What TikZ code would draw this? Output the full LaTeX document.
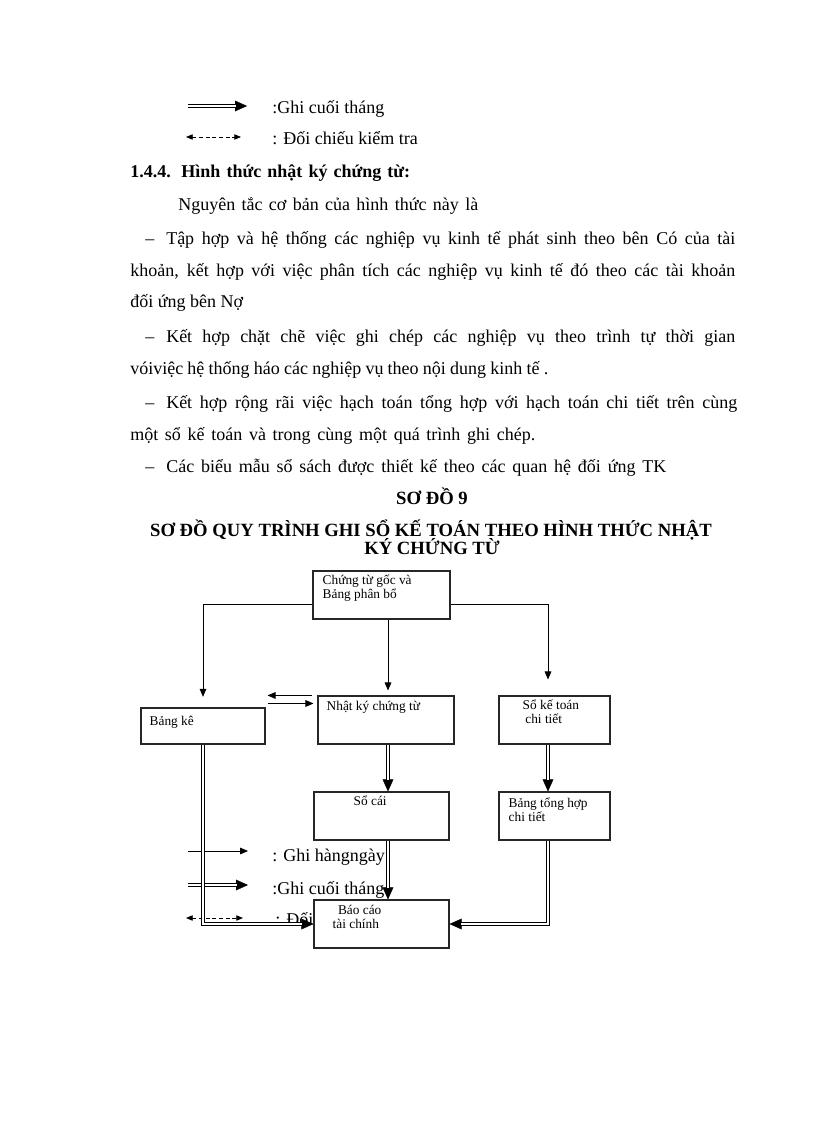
\documentclass[tikz,border=0pt]{standalone}
\usepackage{fontspec}
\setmainfont{Liberation Serif}
\usetikzlibrary{arrows.meta,positioning,calc}

\tikzset{
  box/.style={draw=black!85, line width=0.8pt, fill=white, inner sep=0pt},
  boxtxt/.style={font=\fontsize{10}{10.5}\selectfont, align=left, inner sep=0pt, anchor=north west},
  body/.style={font=\fontsize{13.5}{16}\selectfont, inner sep=0pt, anchor=base west},
  head/.style={font=\fontsize{14}{16}\selectfont\bfseries, inner sep=0pt, anchor=base},
  daily/.style={line width=0.6pt, -{Triangle[length=6pt,width=5pt]}},
  monthly/.style={line width=2.4pt, -{Triangle[length=9pt,width=8pt,line width=0.3pt]},
    postaction={draw=white, line width=0.9pt, -, shorten >=8.5pt}},
  verify/.style={line width=0.6pt, dash pattern=on 3pt off 2pt, {Triangle[length=5pt,width=4pt]}-{Triangle[length=5pt,width=4pt]}},
}

\begin{document}
\begin{tikzpicture}[x=0.75pt,y=-0.75pt]
  \fill[white] (0,0) rectangle (816,1123);
  \useasboundingbox (0,0) rectangle (816,1123);

  % legend at the top of the page
  \coordinate (m1a) at (188,106);
  \coordinate (m1b) at (247,106);
  \draw[monthly] (m1a) -- (m1b);
  \node[body] (m1t) at (272,114) {:Ghi cuối tháng};
  \coordinate (v1a) at (186,137);
  \coordinate (v1b) at (241,137);
  \draw[verify] (v1a) -- (v1b);
  \node[body] (v1t) at (272,145) {: Đối chiếu kiểm tra};

  % text of the section
  \node[body,font=\fontsize{13.5}{16}\selectfont\bfseries] (sec) at (130,178)
    {\makebox[210pt][s]{1.4.4. Hình thức nhật ký chứng từ:}};
  \foreach \x/\y/\w/\t in {
    178/211/225/{Nguyên tắc cơ bản của hình thức này là},
    145/244/442.5/{–\hspace{9pt}Tập hợp và hệ thống các nghiệp vụ kinh tế phát sinh theo bên Có của tài},
    130/276/453.75/{khoản, kết hợp với việc phân tích các nghiệp vụ kinh tế đó theo các tài khoản},
    145/342/442.5/{–\hspace{9pt}Kết hợp chặt chẽ việc ghi chép các nghiệp vụ theo trình tự thời gian},
    130/374/313.5/{vóiviệc hệ thống háo các nghiệp vụ theo nội dung kinh tế .},
    145/408/444/{–\hspace{9pt}Kết hợp rộng rãi việc hạch toán tổng hợp với hạch toán chi tiết trên cùng},
    130/440/303.75/{một sổ kế toán và trong cùng một quá trình ghi chép.},
    145/472/390.75/{–\hspace{9pt}Các biểu mẫu sổ sách được thiết kế theo các quan hệ đối ứng TK}} {
    \node[body] (line\y) at (\x,\y) {\makebox[\w pt][s]{\t}};
  }
  \node[body] (line307) at (130,307) {đối ứng bên Nợ};

  % title of the chart
  \node[head] (t1) at (432,504) {SƠ ĐỒ 9};
  \node[head] (t2) at (431,536) {SƠ ĐỒ QUY TRÌNH GHI SỔ KẾ TOÁN THEO HÌNH THỨC NHẬT};
  \node[head] (t3) at (432,554) {KÝ CHỨNG TỪ};

  % legend inside the chart
  \coordinate (d2a) at (188,851);
  \coordinate (d2b) at (248,851);
  \draw[daily] (d2a) -- (d2b);
  \node[body] (d2t) at (272,861) {: Ghi hàngngày};
  \coordinate (m2a) at (188,885);
  \coordinate (m2b) at (248,885);
  \draw[monthly] (m2a) -- (m2b);
  \node[body] (m2t) at (272,894) {:Ghi cuối tháng};
  \coordinate (v2a) at (186,918);
  \coordinate (v2b) at (243,918);
  \draw[verify] (v2a) -- (v2b);
  \node[body] (v2t) at (275,925) {: Đối};

  % boxes
  \node[box, minimum width=102.75pt, minimum height=36pt] (ctg) at (381.5,595) {};
  \node[box, minimum width=93pt, minimum height=27pt] (bk) at (203,726) {};
  \node[box, minimum width=102pt, minimum height=36pt] (nkct) at (386,720) {};
  \node[box, minimum width=83.25pt, minimum height=36pt] (sktct) at (554.5,720) {};
  \node[box, minimum width=101.25pt, minimum height=36pt] (sc) at (381.5,816) {};
  \node[box, minimum width=83.25pt, minimum height=36pt] (bthct) at (554.5,816) {};
  \node[box, minimum width=101.25pt, minimum height=36pt] (bctc) at (381.5,924) {};

  \node[boxtxt] (ctgt) at ($(ctg.north west)+(10,4)$) {Chứng từ gốc và\\Bảng phân bổ};
  \node[boxtxt] (bkt) at ($(bk.north west)+(9,8)$) {Bảng kê};
  \node[boxtxt] (nkctt) at ($(nkct.north west)+(9,5)$) {Nhật ký chứng từ};
  \node[boxtxt] (sktctt) at ($(sktct.north west)+(24,4)$) {Sổ kế toán\\\hspace{2pt}chi tiết};
  \node[boxtxt] (sct) at ($(sc.north west)+(40,4)$) {Sổ cái};
  \node[boxtxt] (bthctt) at ($(bthct.north west)+(10,6)$) {Bảng tổng hợp\\chi tiết};
  \node[boxtxt] (bctct) at ($(bctc.north west)+(19,5)$) {\hspace{4pt}Báo cáo\\tài chính};

  % connectors
  \coordinate (mx) at (388,0);
  \coordinate (rx) at (548,0);
  \draw[daily, shorten >=8pt] ($(ctg.west)+(0,9)$) -| (bk.north);
  \draw[daily, shorten >=3.75pt] (ctg.south -| mx) -- (nkct.north -| mx);
  \draw[daily, shorten >=12pt] ($(ctg.east)+(0,9)$) -| (sktct.north -| rx);
  \draw[daily] ($(nkct.north west)+(-5,0)$) -- ($(bk.east |- nkct.north)+(2,0)$);
  \draw[daily] ($(bk.east |- nkct.north)+(2,8)$) -- ($(nkct.north west)+(-4,8)$);

  \draw[monthly] (nkct.south -| mx) -- (sc.north -| mx);
  \draw[monthly] (sktct.south -| rx) -- (bthct.north -| rx);
  \draw[monthly] (sc.south -| mx) -- (bctc.north -| mx);
  \draw[monthly] (bk.south) |- (bctc.west);
  \draw[monthly] (bthct.south -| rx) |- (bctc.east);
\end{tikzpicture}
\end{document}
